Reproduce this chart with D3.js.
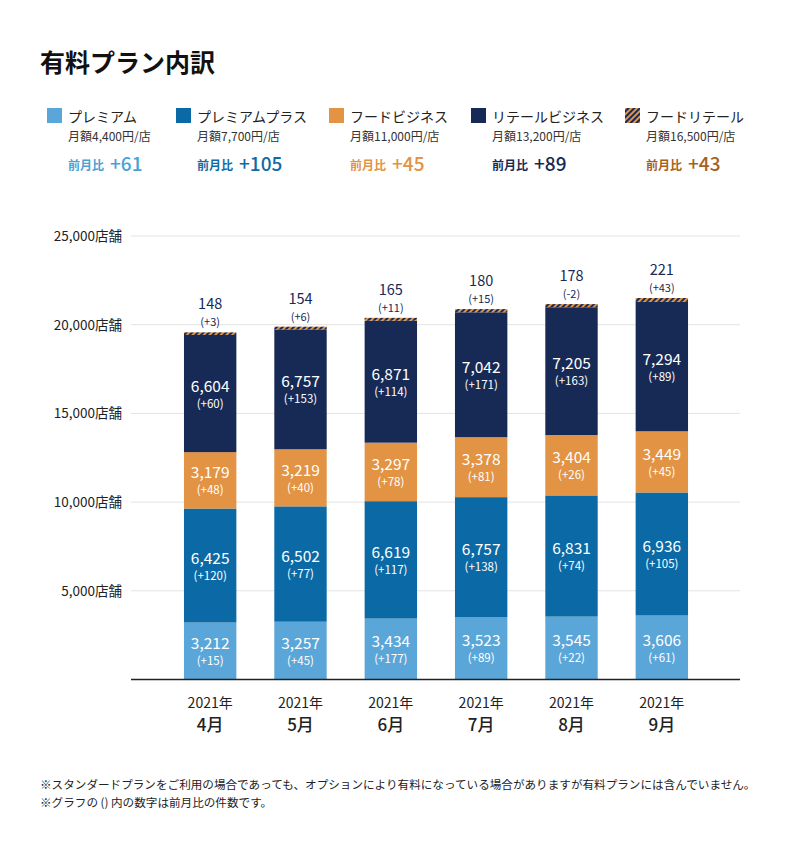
<!DOCTYPE html>
<html><head><meta charset="utf-8">
<script src="https://cdn.jsdelivr.net/npm/d3@7"></script>
<style>
body{margin:0;background:#fff;}
text{font-family:"Noto Sans CJK JP","Noto Sans",sans-serif;}
</style></head>
<body><svg id="c" width="800" height="865"></svg>
<script>
const months = ["4月","5月","6月","7月","8月","9月"];
const yearLabel = "2021年";
const seriesNames = ["プレミアム","プレミアムプラス","フードビジネス","リテールビジネス","フードリテール"];
const priceLabels = ["月額4,400円/店","月額7,700円/店","月額11,000円/店","月額13,200円/店","月額16,500円/店"];
const legendDeltas = ["+61","+105","+45","+89","+43"];
const premium = [3212,3257,3434,3523,3545,3606];
const premiumDelta = [15,45,177,89,22,61];
const plus = [6425,6502,6619,6757,6831,6936];
const plusDelta = [120,77,117,138,74,105];
const food = [3179,3219,3297,3378,3404,3449];
const foodDelta = [48,40,78,81,26,45];
const retail = [6604,6757,6871,7042,7205,7294];
const retailDelta = [60,153,114,171,163,89];
const foodRetail = [148,154,165,180,178,221];
const foodRetailDelta = [3,6,11,15,-2,43];
const yTicks = [5000,10000,15000,20000,25000];

const colors = ["#5ba6d8","#0b6aa5","#e29344","#172a55","url(#hatch)"];
const deltaColors = ["#4a9fd5","#0f6ba6","#e29344","#172a55","#a8611a"];

const svg = d3.select("#c");
const defs = svg.append("defs");
const pat = defs.append("pattern").attr("id","hatch").attr("patternUnits","userSpaceOnUse")
  .attr("width",4).attr("height",4).attr("patternTransform","rotate(45)");
pat.append("rect").attr("width",4).attr("height",4).attr("fill","#172a55");
pat.append("rect").attr("width",2).attr("height",4).attr("fill","#e29344");

// Title
svg.append("text").attr("x",40).attr("y",72).attr("font-size",25).attr("font-weight",700)
  .attr("fill","#111").text("有料プラン内訳");

// Legend
const legX = [47,176,329,471,625];
seriesNames.forEach((n,i)=>{
  const g = svg.append("g").attr("transform",`translate(${legX[i]},0)`);
  g.append("rect").attr("x",0).attr("y",108).attr("width",15).attr("height",15).attr("fill",colors[i]);
  g.append("text").attr("x",21).attr("y",122).attr("font-size",14).attr("fill","#222").text(n);
  g.append("text").attr("x",21).attr("y",141).attr("font-size",12).attr("fill","#333").text(priceLabels[i]);
  g.append("text").attr("x",21).attr("y",170).attr("font-size",12).attr("font-weight",700)
    .attr("fill",deltaColors[i]).text("前月比");
  g.append("text").attr("x",63).attr("y",171).attr("font-size",19).attr("font-weight",500)
    .attr("fill",deltaColors[i]).text(legendDeltas[i]);
});

// Scales
const x = d3.scaleBand().domain(months).range([165,707]).paddingInner(0.42).paddingOuter(0.21);
const y = d3.scaleLinear().domain([0,25000]).range([679.5,236]);

// grid
svg.append("g").selectAll("line").data(yTicks).join("line")
  .attr("x1",131).attr("x2",740).attr("y1",d=>y(d)).attr("y2",d=>y(d))
  .attr("stroke","#e3e3e3").attr("stroke-width",1);
svg.append("g").selectAll("text").data(yTicks).join("text")
  .attr("x",122).attr("y",d=>y(d)+5).attr("text-anchor","end").attr("font-size",13.5)
  .attr("fill","#222").text(d=>d3.format(",")(d)+"店舗");

const series = [premium,plus,food,retail,foodRetail];
const deltas = [premiumDelta,plusDelta,foodDelta,retailDelta,foodRetailDelta];
const rows = months.map((m,j)=>{const o={month:m}; series.forEach((s,i)=>o["s"+i]=s[j]); return o;});
const stack = d3.stack().keys(series.map((s,i)=>"s"+i))(rows);
const fmt = d3.format(",");
const sgn = v => v>=0 ? "(+"+v+")" : "("+v+")";

stack.forEach((layer,i)=>{
  const g = svg.append("g");
  g.selectAll("rect").data(layer).join("rect")
    .attr("x",d=>x(d.data.month)).attr("width",x.bandwidth())
    .attr("y",d=>y(d[1])).attr("height",d=>y(d[0])-y(d[1]))
    .attr("fill",colors[i]);
  if(i<4){
    g.selectAll("text.v").data(layer).join("text").attr("class","v")
      .attr("x",d=>x(d.data.month)+x.bandwidth()/2).attr("y",d=>(y(d[0])+y(d[1]))/2-2)
      .attr("text-anchor","middle").attr("font-size",15.5).attr("fill","#fff")
      .text((d,j)=>fmt(series[i][j]));
    g.selectAll("text.d").data(layer).join("text").attr("class","d")
      .attr("x",d=>x(d.data.month)+x.bandwidth()/2).attr("y",d=>(y(d[0])+y(d[1]))/2+14)
      .attr("text-anchor","middle").attr("font-size",11.5).attr("fill","#fff")
      .text((d,j)=>sgn(deltas[i][j]));
  } else {
    g.selectAll("text.v").data(layer).join("text").attr("class","v")
      .attr("x",d=>x(d.data.month)+x.bandwidth()/2).attr("y",d=>y(d[1])-23)
      .attr("text-anchor","middle").attr("font-size",14.5).attr("fill","#172a55")
      .text((d,j)=>fmt(series[i][j]));
    g.selectAll("text.d").data(layer).join("text").attr("class","d")
      .attr("x",d=>x(d.data.month)+x.bandwidth()/2).attr("y",d=>y(d[1])-6)
      .attr("text-anchor","middle").attr("font-size",11).attr("fill","#172a55")
      .text((d,j)=>sgn(deltas[i][j]));
  }
});

// baseline axis
svg.append("line").attr("x1",131).attr("x2",740).attr("y1",679.5).attr("y2",679.5)
  .attr("stroke","#222").attr("stroke-width",1.5);

const xl = svg.append("g");
xl.selectAll("text.yr").data(months).join("text").attr("class","yr")
  .attr("x",d=>x(d)+x.bandwidth()/2).attr("y",708).attr("text-anchor","middle")
  .attr("font-size",14).attr("fill","#222").text(yearLabel);
xl.selectAll("text.mo").data(months).join("text").attr("class","mo")
  .attr("x",d=>x(d)+x.bandwidth()/2).attr("y",731).attr("text-anchor","middle")
  .attr("font-size",17).attr("font-weight",500).attr("fill","#222").text(d=>d);

// footnotes
svg.append("text").attr("x",40).attr("y",789).attr("font-size",11.6).attr("fill","#222")
  .text("※スタンダードプランをご利用の場合であっても、オプションにより有料になっている場合がありますが有料プランには含んでいません。");
svg.append("text").attr("x",40).attr("y",807).attr("font-size",11.6).attr("fill","#222")
  .text("※グラフの () 内の数字は前月比の件数です。");
</script></body></html>
